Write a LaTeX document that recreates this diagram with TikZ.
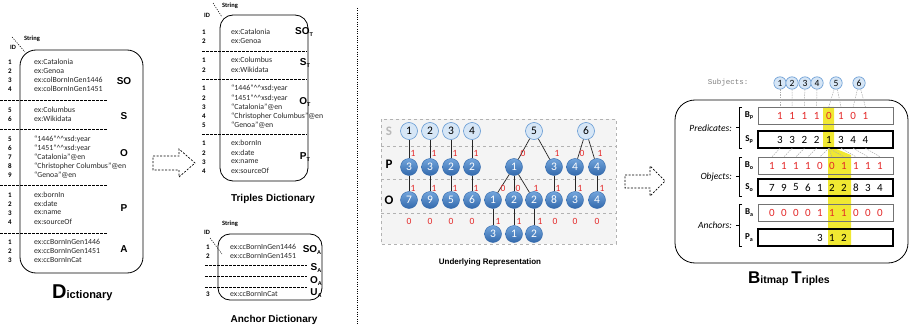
\documentclass[tikz,border=0pt]{standalone}
\usepackage{fontspec}
\setmainfont{Carlito}
\newfontfamily\blk{Liberation Sans}
\newfontfamily\mono{Liberation Mono}
\definecolor{bitred}{RGB}{228,40,40}
\definecolor{nblue}{RGB}{72,132,198}
\definecolor{nblueT}{RGB}{115,165,220}
\definecolor{nblueD}{RGB}{50,105,172}
\definecolor{lblue}{RGB}{214,230,246}
\definecolor{rblue}{RGB}{98,152,210}
\definecolor{hl}{RGB}{240,232,50}
\definecolor{boxgray}{RGB}{244,244,244}
\newcommand{\ent}[6]{\node[idn] (#1i) at (#2,#4) {#5}; \node[dstr] (#1s) at (#3,#4) {#6};}
\newcommand{\grpsub}[2]{#1\raisebox{-2pt}{\fontsize{5.5}{6}\selectfont #2}}
\newcommand{\bsub}[2]{\textbf{#1}\raisebox{-1.8pt}{\fontsize{6}{6}\selectfont\bfseries #2}}
\newcommand{\crt}{\textasciicircum\textasciicircum}
\begin{document}
\begin{tikzpicture}[x=1pt,y=-1pt,
  idn/.style={font=\fontsize{7}{8}\selectfont\bfseries, inner sep=0},
  dstr/.style={font=\fontsize{7.8}{8}\selectfont, text=black!85, anchor=west, inner sep=0},
  grp/.style={font=\blk\bfseries\fontsize{10}{11}\selectfont, inner sep=0},
  sepline/.style={line width=0.7pt, dash pattern=on 2.5pt off 1.5pt},
  dbox/.style={draw, line width=0.8pt},
  hdr/.style={font=\fontsize{6.5}{7}\selectfont\bfseries, inner sep=0},
  diag/.style={line width=0.5pt, dash pattern=on 1.2pt off 1.2pt},
  ttl/.style={font=\blk\bfseries\fontsize{10}{11}\selectfont, inner sep=0},
  harrow/.style={line width=0.7pt, dash pattern=on 2pt off 1.5pt},
  scirc/.style={circle, draw=rblue, fill=lblue, line width=0.6pt, minimum size=17pt, inner sep=0, font=\fontsize{11.5}{12}\selectfont},
  bcirc/.style={circle, draw=nblueD, top color=nblueT, bottom color=nblueD, line width=0.4pt, minimum size=17pt, inner sep=0, text=white, font=\fontsize{11.5}{12}\selectfont},
  edge/.style={line width=0.7pt, draw=black!85},
  rbit/.style={text=bitred, font=\fontsize{9.5}{10}\selectfont, inner sep=0},
  rowlbl/.style={font=\fontsize{13}{14}\selectfont\bfseries, inner sep=0},
  gsep/.style={draw=gray!60, dashed, line width=0.6pt},
  subc/.style={circle, draw=rblue, fill=lblue, line width=0.6pt, minimum size=12.4pt, inner sep=0, font=\fontsize{9.5}{10}\selectfont},
  bbar/.style={draw=black!55, line width=0.6pt, minimum width=135pt, minimum height=17pt, inner sep=0},
  sbar/.style={draw=black, line width=1.2pt, minimum width=135pt, minimum height=17pt, inner sep=0},
  dig/.style={font=\fontsize{11}{12}\selectfont, inner sep=0, minimum height=17pt},
  conn/.style={draw=gray!65, line width=0.5pt, dash pattern=on 1.5pt off 1pt},
  blbl/.style={font=\fontsize{9}{10}\selectfont, inner sep=0},
  glbl/.style={font=\fontsize{9.5}{10}\selectfont\itshape, anchor=east, inner sep=0}
]
\useasboundingbox (0,0) rectangle (911,329);
\fill[white] (0,0) rectangle (911,329);

%% ---------------- Dictionary ----------------
\node[hdr] (Lstr) at (32,39) {String};
\node[hdr] (Lid) at (13,47) {ID};
\coordinate (Ld1) at (12,37); \coordinate (Ld2) at (25,52);
\draw[diag] (Ld1) -- (Ld2);
\draw[dbox, rounded corners=16pt] (20,50) rectangle (143,273);
\ent{La}{10}{34}{62}{1}{ex:Catalonia}
\ent{Lb}{10}{34}{71}{2}{ex:Genoa}
\ent{Lc}{10}{34}{80}{3}{ex:colBornInGen1446}
\ent{Ld}{10}{34}{89}{4}{ex:colBornInGen1451}
\draw[sepline] (0,100) -- (107,100);
\ent{Le}{10}{34}{110}{5}{ex:Columbus}
\ent{Lf}{10}{34}{119}{6}{ex:Wikidata}
\draw[sepline] (0,129) -- (107,129);
\ent{Lg}{10}{34}{139}{5}{“1446”\crt xsd:year}
\ent{Lh}{10}{34}{148}{6}{“1451”\crt xsd:year}
\ent{Lj}{10}{34}{157}{7}{“Catalonia”@en}
\ent{Lk}{10}{34}{166}{8}{“Christopher Columbus”@en}
\ent{Ll}{10}{34}{175}{9}{“Genoa”@en}
\draw[sepline] (0,185) -- (107,185);
\ent{Lm}{10}{34}{195}{1}{ex:bornIn}
\ent{Ln}{10}{34}{204}{2}{ex:date}
\ent{Lo}{10}{34}{213}{3}{ex:name}
\ent{Lp}{10}{34}{222}{4}{ex:sourceOf}
\draw[sepline] (0,233) -- (107,233);
\ent{Lq}{10}{34}{242}{1}{ex:ccBornInGen1446}
\ent{Lr}{10}{34}{251}{2}{ex:ccBornInGen1451}
\ent{Ls}{10}{34}{260}{3}{ex:ccBornInCat}
\node[grp] (gSO) at (124,81) {SO};
\node[grp] (gS) at (124,116) {S};
\node[grp] (gO) at (124,153) {O};
\node[grp] (gP) at (124,208) {P};
\node[grp] (gA) at (124,249) {A};
\node[anchor=base west, inner sep=0] (dtitle) at (52,298) {\blk\bfseries\fontsize{20}{20}\selectfont D\fontsize{11}{11}\selectfont ictionary};

%% arrow 1
\draw[harrow] (153,156) -- (179,156) -- (179,149) -- (195,163) -- (179,177) -- (179,170) -- (153,170) -- cycle;

%% ---------------- Triples dictionary ----------------
\node[hdr] (Tstr) at (230,6) {String};
\node[hdr] (Tid) at (207,15) {ID};
\coordinate (Td1) at (213,3); \coordinate (Td2) at (222,17);
\draw[diag] (Td1) -- (Td2);
\draw[dbox, rounded corners=13pt] (220,15) rectangle (308,181);
\ent{Ta}{204}{231}{32}{1}{ex:Catalonia}
\ent{Tb}{204}{231}{41}{2}{ex:Genoa}
\draw[sepline] (202,51) -- (307,51);
\ent{Tc}{204}{231}{60}{1}{ex:Columbus}
\ent{Td}{204}{231}{70}{2}{ex:Wikidata}
\draw[sepline] (202,79) -- (307,79);
\ent{Te}{204}{231}{88}{1}{“1446”\crt xsd:year}
\ent{Tf}{204}{231}{98}{2}{“1451”\crt xsd:year}
\ent{Tg}{204}{231}{107}{3}{“Catalonia”@en}
\ent{Th}{204}{231}{116}{4}{“Christopher Columbus”@en}
\ent{Tj}{204}{231}{125}{5}{“Genoa”@en}
\draw[sepline] (202,134) -- (307,134);
\ent{Tk}{204}{231}{143}{1}{ex:bornIn}
\ent{Tl}{204}{231}{153}{2}{ex:date}
\ent{Tm}{204}{231}{162}{3}{ex:name}
\ent{Tn}{204}{231}{171}{4}{ex:sourceOf}
\node[grp] (tSO) at (304,32) {\grpsub{SO}{T}};
\node[grp] (tS) at (305,63) {\grpsub{S}{T}};
\node[grp] (tO) at (305,102) {\grpsub{O}{T}};
\node[grp] (tP) at (305,157) {\grpsub{P}{T}};
\node[ttl] (ttitle) at (273,199) {Triples Dictionary};

%% ---------------- Anchor dictionary ----------------
\node[hdr] (Astr) at (230,224) {String};
\node[hdr] (Aid) at (207,232) {ID};
\coordinate (Ad1) at (210,238); \coordinate (Ad2) at (222,254);
\draw[diag] (Ad1) -- (Ad2);
\draw[dbox, rounded corners=12pt] (218,234) rectangle (322,300);
\ent{Aa}{208}{230}{247}{1}{ex:ccBornInGen1446}
\ent{Ab}{208}{230}{256}{2}{ex:ccBornInGen1451}
\draw[sepline] (205,265) -- (307,265);
\draw[sepline] (205,276) -- (307,276);
\draw[sepline] (205,287) -- (307,287);
\ent{Ac}{208}{230}{294}{3}{ex:ccBornInCat}
\node[grp] (aSO) at (312,250) {\grpsub{SO}{A}};
\node[grp] (aS) at (316,268) {\grpsub{S}{A}};
\node[grp] (aO) at (316,281) {\grpsub{O}{A}};
\node[grp] (aU) at (316,293) {\grpsub{U}{A}};
\node[ttl] (atitle) at (274,320) {Anchor Dictionary};

%% vertical dotted separator
\draw[line width=0.7pt, dash pattern=on 1pt off 1.3pt] (357,8) -- (357,325);

%% ---------------- Underlying representation ----------------
\draw[draw=gray!60, fill=boxgray, dashed, line width=0.6pt] (381,119) rectangle (616,244);
\draw[gsep] (381,146) -- (616,146);
\draw[gsep] (381,179) -- (616,179);
\draw[gsep] (381,213) -- (616,213);
\node[rowlbl, text=gray!55] (lS) at (389,131) {S};
\node[rowlbl] (lP) at (389,164) {P};
\node[rowlbl] (lO) at (389,200) {O};

\foreach \n/\x/\t in {1/409/1,2/430/2,3/451/3,4/472/4,5/534/5,6/586/6}
  \node[scirc] (s\n) at (\x,131) {\t};
\foreach \n/\x/\t in {1/409/3,2/430/3,3/451/2,4/472/2,5/514/1,6/554/3,7/575/4,8/597/4}
  \node[bcirc] (p\n) at (\x,167) {\t};
\foreach \n/\x/\t in {1/409/7,2/430/9,3/451/5,4/472/6,5/493/1,6/514/2,7/534/2,8/554/8,9/575/3,10/597/4}
  \node[bcirc] (o\n) at (\x,200) {\t};
\foreach \n/\x/\t in {5/493/3,6/514/1,7/534/2}
  \node[bcirc] (a\n) at (\x,234) {\t};

\foreach \a/\b in {s1/p1,s2/p2,s3/p3,s4/p4,s5/p5,s5/p6,s6/p7,s6/p8,
  p1/o1,p2/o2,p3/o3,p4/o4,p5/o5,p5/o6,p5/o7,p6/o8,p7/o9,p8/o10,o5/a5,o6/a6,o7/a7}
  \draw[edge] (\a) -- (\b);

\foreach \n/\x/\t in {1/413/1,2/434/1,3/455/1,4/476/1,5/523/0,6/557/1,7/582/0,8/600/1}
  \node[rbit] (ra\n) at (\x,153) {\t};
\foreach \n/\x/\t in {1/413/1,2/434/1,3/455/1,4/476/1,5/503/0,6/518/0,7/536/1,8/558/1,9/580/1,10/602/1}
  \node[rbit] (rb\n) at (\x,188) {\t};
\foreach \n/\x/\t in {1/409/0,2/430/0,3/451/0,4/472/0,5/498/1,6/519/1,7/540/1,8/555/0,9/575/0,10/597/0}
  \node[rbit] (rc\n) at (\x,221) {\t};

\node[ttl, font=\blk\bfseries\fontsize{8}{9}\selectfont] (utitle) at (490,262) {Underlying Representation};

%% arrow 2
\draw[harrow] (625,175) -- (650,175) -- (650,166) -- (665,181) -- (650,196) -- (650,188) -- (625,188) -- cycle;

%% ---------------- Bitmap triples ----------------
\draw[dbox, rounded corners=20pt] (675,100) rectangle (908,263);
\node[font=\mono\fontsize{7.5}{8}\selectfont, text=gray, inner sep=0] (subj) at (728,83) {Subjects:};
\foreach \n/\x in {1/780,2/792,3/805,4/817,5/836,6/859}
  \node[subc] (b\n) at (\x,83) {\n};

\fill[hl] (823,107) -- (834,107) -- (834,148) -- (851,155) -- (851,246) -- (828,246) -- (828,147) -- (823,147) -- cycle;

\node[bbar] (barBp) at (825.5,115.5) {};
\node[sbar] (barSp) at (825.5,139.5) {};
\node[bbar] (barBo) at (825.5,165.5) {};
\node[sbar] (barSo) at (825.5,187.5) {};
\node[bbar] (barBa) at (825.5,212.5) {};
\node[sbar] (barPa) at (825.5,237.5) {};

\foreach \d [count=\i] in {1,1,1,1,0,1,0,1}
  \node[dig, text=bitred] (bp\i) at ({767.8+12.2*\i},115.5) {\d};
\foreach \d [count=\i] in {3,3,2,2,1,3,4,4}
  \node[dig] (sp\i) at ({767.8+12.2*\i},139.5) {\d};
\foreach \d [count=\i] in {1,1,1,1,0,0,1,1,1,1}
  \node[dig, text=bitred] (bo\i) at ({760+12*\i},165.5) {\d};
\foreach \d [count=\i] in {7,9,5,6,1,2,2,8,3,4}
  \node[dig] (so\i) at ({760+12*\i},187.5) {\d};
\foreach \d [count=\i] in {0,0,0,0,1,1,1,0,0,0}
  \node[dig, text=bitred] (ba\i) at ({760+12*\i},212.5) {\d};
\foreach \d/\i in {3/5,1/6,2/7}
  \node[dig] (pa\i) at ({760+12*\i},237.5) {\d};

\foreach \a/\b in {b1/bp1,b2/bp2,b3/bp3,b4/bp4,b5/bp5,b5/bp6,b6/bp7,b6/bp8}
  \draw[conn] (\a) -- (\b.north);
\foreach \a/\b in {sp1/bo1,sp2/bo2,sp3/bo3,sp4/bo4,sp5/bo5,sp5/bo6,sp5/bo7,sp6/bo8,sp7/bo9,sp8/bo10}
  \draw[conn] (\a.south) -- (\b.north);

%% brackets and labels
\foreach \t/\b in {107/148,157/196,204/246}{
  \draw[line width=0.6pt] (742,\t) -- (739,\t) -- (739,\b) -- (742,\b);
  \draw[line width=0.6pt] (739,{(\t+\b)/2}) -- (736,{(\t+\b)/2});
}
\node[glbl] (lpred) at (732,128) {Predicates:};
\node[glbl] (lobj) at (732,177) {Objects:};
\node[glbl] (lanc) at (732,225) {Anchors:};
\node[blbl] (tBp) at (749,115.5) {\bsub{B}{p}};
\node[blbl] (tSp) at (749,139.5) {\bsub{S}{p}};
\node[blbl] (tBo) at (749,165.5) {\bsub{B}{o}};
\node[blbl] (tSo) at (749,187.5) {\bsub{S}{o}};
\node[blbl] (tBa) at (749,212.5) {\bsub{B}{a}};
\node[blbl] (tPa) at (749,237.5) {\bsub{P}{a}};

\node[anchor=base west, inner sep=0] (btitle) at (748,283) {\blk\bfseries\fontsize{17}{17}\selectfont B\fontsize{10.5}{11}\selectfont itmap \fontsize{17}{17}\selectfont T\fontsize{10.5}{11}\selectfont riples};
\end{tikzpicture}
\end{document}
